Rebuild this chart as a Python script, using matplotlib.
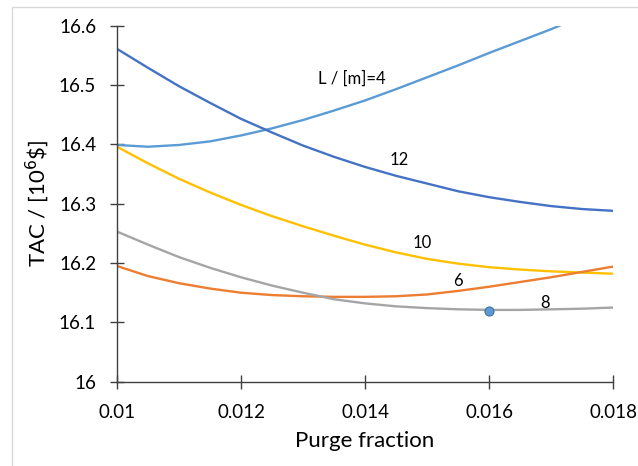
import matplotlib
matplotlib.use("Agg")
import matplotlib.pyplot as plt
from matplotlib.patches import Rectangle

plt.rcParams['font.family'] = ['Lato', 'DejaVu Sans']

purge = [0.0100, 0.0105, 0.0110, 0.0115, 0.0120, 0.0125, 0.0130, 0.0135, 0.0140,
         0.0145, 0.0150, 0.0155, 0.0160, 0.0165, 0.0170, 0.0175, 0.0180]

# TAC values (10^6 $) for each column length L
tac_L4 = [16.399, 16.396, 16.399, 16.405, 16.415, 16.427, 16.441, 16.457, 16.474,
          16.493, 16.513, 16.533, 16.554, 16.574, 16.594, 16.616, 16.640]
tac_L6 = [16.195, 16.178, 16.166, 16.157, 16.150, 16.146, 16.144, 16.143, 16.143,
          16.144, 16.147, 16.153, 16.160, 16.168, 16.176, 16.185, 16.194]
tac_L8 = [16.253, 16.231, 16.210, 16.192, 16.176, 16.162, 16.150, 16.139, 16.132,
          16.127, 16.124, 16.122, 16.121, 16.121, 16.122, 16.123, 16.125]
tac_L10 = [16.396, 16.368, 16.342, 16.319, 16.298, 16.279, 16.262, 16.246, 16.231,
           16.218, 16.207, 16.199, 16.193, 16.189, 16.186, 16.184, 16.182]
tac_L12 = [16.561, 16.529, 16.498, 16.470, 16.443, 16.420, 16.398, 16.379, 16.362,
           16.347, 16.334, 16.321, 16.311, 16.303, 16.296, 16.291, 16.288]

opt_x = [0.016]
opt_y = [16.120]

series = [
    (tac_L4, '#5B9BD5', 'L / [m]=4', 0.01379, 16.51),
    (tac_L12, '#4472C4', '12', 0.01455, 16.374),
    (tac_L10, '#FFC000', '10', 0.01492, 16.234),
    (tac_L6, '#ED7D31', '6', 0.01550, 16.169),
    (tac_L8, '#A5A5A5', '8', 0.01691, 16.133),
]

fig = plt.figure(figsize=(6.38, 4.66), dpi=100)
fig.patches.append(Rectangle((12 / 638, -0.1), 1.2, 1 - 7 / 466 + 0.1,
                             transform=fig.transFigure, fill=False,
                             edgecolor='#D9D9D9', linewidth=1))
ax = fig.add_axes([117 / 638, 1 - 381.7 / 466, 496 / 638, 356 / 466])

for vals, color, label, lx, ly in series:
    ax.plot(purge, vals, color=color, linewidth=1.7, solid_joinstyle='round')
    ax.text(lx, ly, label, fontsize=12, ha='center', va='center')

ax.plot(opt_x, opt_y, 'o', color='#5B9BD5', markeredgecolor='#41719C',
        markersize=6.5, markeredgewidth=0.8)

ax.set_xlim(0.01, 0.018)
ax.set_ylim(16, 16.6)
ax.set_xticks([0.01, 0.012, 0.014, 0.016, 0.018])
ax.set_xticklabels(['0.01', '0.012', '0.014', '0.016', '0.018'])
ax.set_yticks([16, 16.1, 16.2, 16.3, 16.4, 16.5, 16.6])
ax.set_yticklabels(['16', '16.1', '16.2', '16.3', '16.4', '16.5', '16.6'])

for s in ['top', 'right']:
    ax.spines[s].set_visible(False)
for s in ['left', 'bottom']:
    ax.spines[s].set_color('#404040')
    ax.spines[s].set_linewidth(1)
ax.tick_params(direction='inout', length=10, width=1, color='#404040',
               labelsize=13.5)
ax.tick_params(axis='x', pad=11)
ax.tick_params(axis='y', pad=10)

ax.set_xlabel('Purge fraction', fontsize=16, labelpad=7)
ax.set_ylabel('TAC / [10$^6$\\$]', fontsize=16, labelpad=6)

fig.savefig('out.png', dpi=100)
